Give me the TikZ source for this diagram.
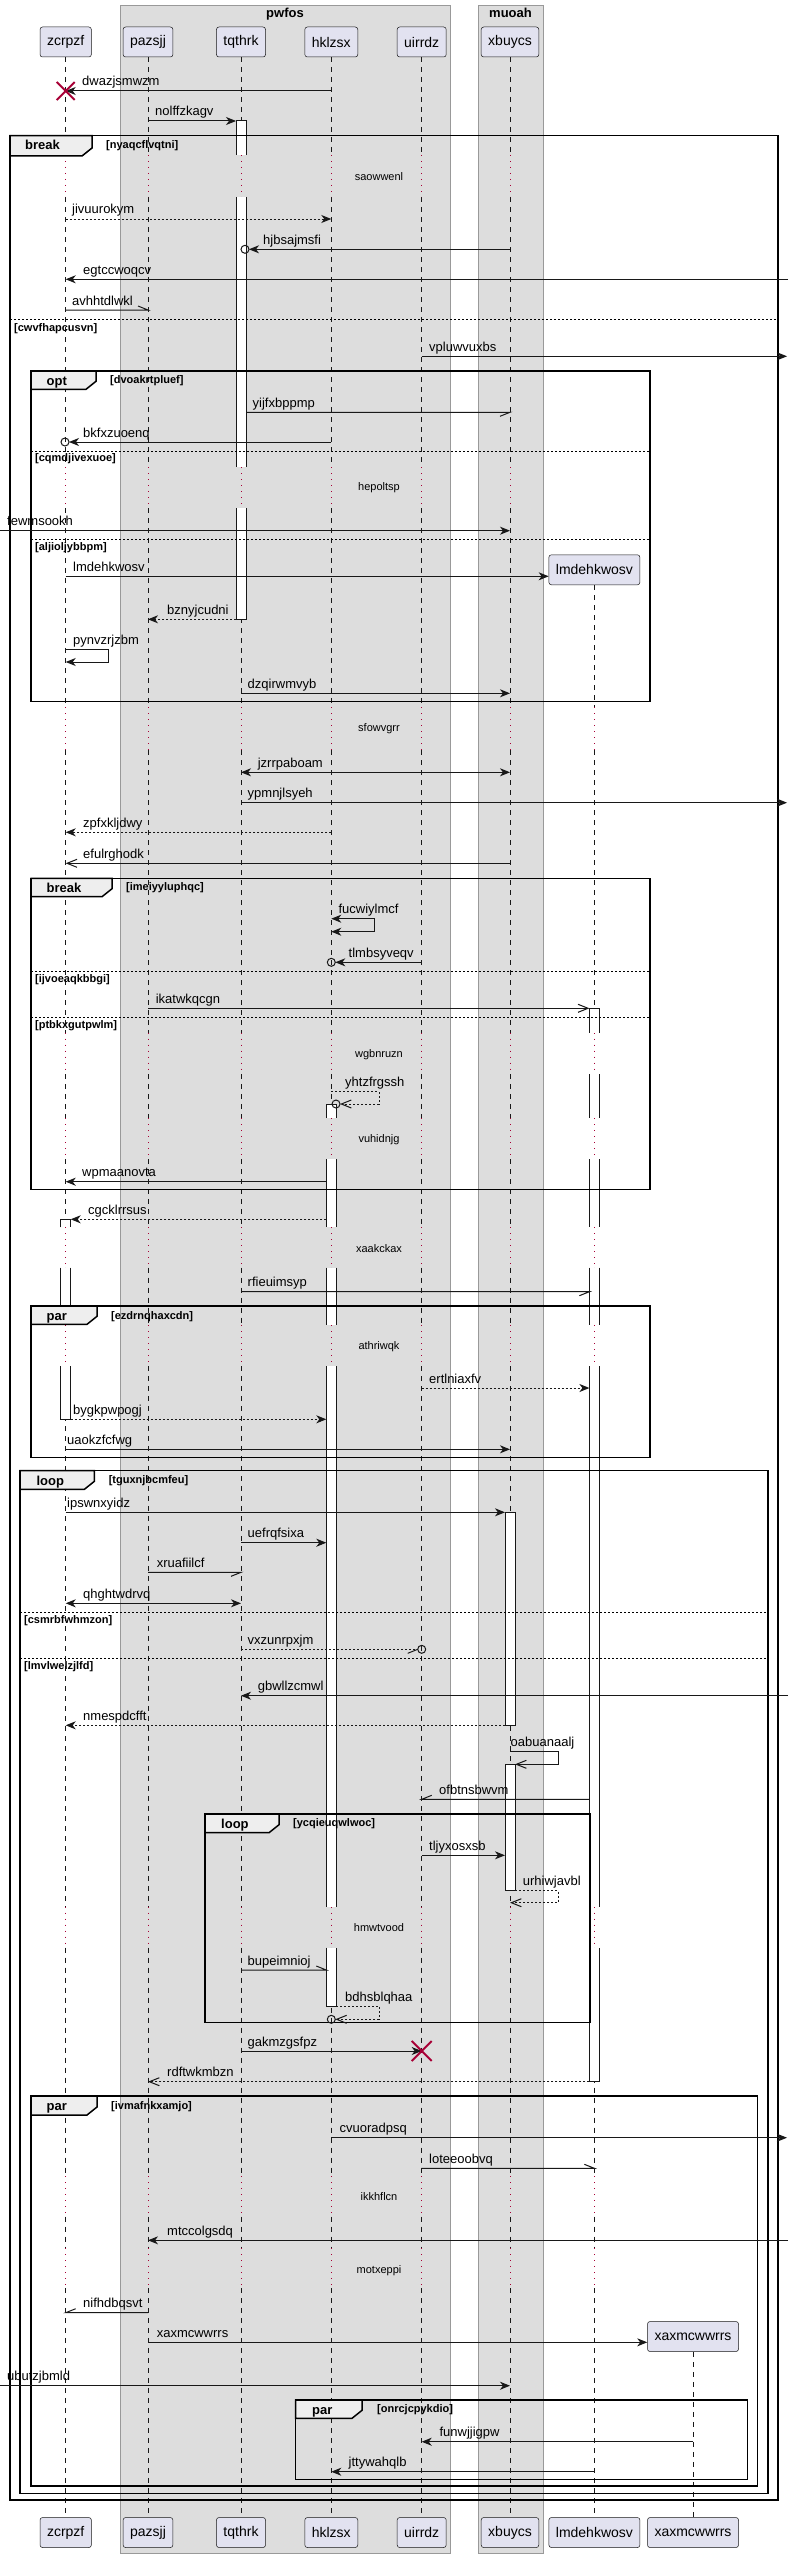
\documentclass[tikz,border=0pt]{standalone}
\usepackage{fontspec}
\setmainfont{Liberation Sans}
\usetikzlibrary{arrows.meta}
\definecolor{partfill}{HTML}{E2E2F0}
\definecolor{partline}{HTML}{181818}
\definecolor{boxfill}{HTML}{DDDDDD}
\definecolor{boxline}{HTML}{999999}
\definecolor{dlyred}{HTML}{A80036}
\definecolor{tabfill}{HTML}{EEEEEE}
\def\lxz{65.7}\def\lxp{148}\def\lxt{241}\def\lxh{331.3}\def\lxu{421.7}\def\lxb{510}\def\lxl{594.4}\def\lxx{693}
\newcommand\actA[4]{\fill[white] (#1,#3) rectangle (#2,#4); \draw[actl] (#1,#4) -- (#1,#3) -- (#2,#3) -- (#2,#4);}
\newcommand\actM[4]{\fill[white] (#1,#3) rectangle (#2,#4); \draw[actl] (#1,#3) -- (#1,#4) (#2,#3) -- (#2,#4);}
\newcommand\actZ[4]{\fill[white] (#1,#3) rectangle (#2,#4); \draw[actl] (#1,#3) -- (#1,#4) -- (#2,#4) -- (#2,#3);}
\newcommand\actF[4]{\filldraw[fill=white,actl] (#1,#3) rectangle (#2,#4);}
\tikzset{
 partbox/.style={draw=partline, fill=partfill, rounded corners=2.5pt, minimum height=30pt, inner xsep=7pt, inner ysep=0pt, font=\fontsize{14}{16}\selectfont, line width=0.5pt},
 life/.style={draw=partline, line width=0.5pt, dash pattern=on 5pt off 5pt},
 dly/.style={draw=dlyred, line width=1pt, dash pattern=on 1pt off 5pt},
 msg/.style={draw=partline, line width=1pt},
 ret/.style={msg, dash pattern=on 2pt off 2pt},
 fh/.style={-{Stealth[length=10pt,width=8pt,inset=3pt]}},
 bfh/.style={{Stealth[length=10pt,width=8pt,inset=3pt]}-{Stealth[length=10pt,width=8pt,inset=3pt]}},
 oh/.style={-{Straight Barb[length=10pt,width=8pt]}},
 lbl/.style={anchor=base west, inner sep=0pt, font=\fontsize{13}{15}\selectfont},
 dtext/.style={anchor=center, inner sep=0pt, font=\fontsize{11}{13}\selectfont},
 grpframe/.style={draw=black, line width=1.5pt},
 tabsh/.style={draw=black, fill=tabfill, line width=1.5pt},
 kw/.style={anchor=base west, inner sep=0pt, font=\bfseries\fontsize{13}{15}\selectfont},
 cond/.style={anchor=base west, inner sep=0pt, font=\bfseries\fontsize{11}{13}\selectfont},
 sepl/.style={draw=black, line width=1pt, dash pattern=on 2pt off 2pt},
 actl/.style={draw=partline, line width=1pt},
 destroy/.style={draw=dlyred, line width=2pt},
 grpbox/.style={draw=boxline, fill=boxfill, line width=1pt},
 boxtitle/.style={anchor=base, inner sep=0pt, font=\bfseries\fontsize{13}{15}\selectfont},
}
\begin{document}
\begin{tikzpicture}[x=1pt,y=-1pt]
\useasboundingbox (0,0) rectangle (788,2558);
\fill[white] (0,0) rectangle (788,2558);
% boxes
\draw[grpbox] (120,6) rectangle (450,2553);
\node[boxtitle] (bt1) at (285,18) {pwfos};
\draw[grpbox] (478,6) rectangle (543,2553);
\node[boxtitle] (bt2) at (510.5,18) {muoah};
% lifelines
\foreach \lx in {65.7,148,241,331.3,421.7,510} {
 \draw[life] (\lx,57) -- (\lx,155) (\lx,197) -- (\lx,467) (\lx,508) -- (\lx,707) (\lx,750) -- (\lx,1032.7) (\lx,1074) -- (\lx,1118) (\lx,1159.3) -- (\lx,1227.3) (\lx,1267.7) -- (\lx,1325) (\lx,1366) -- (\lx,1906.7) (\lx,1947.7) -- (\lx,2176) (\lx,2216.7) -- (\lx,2248) (\lx,2288) -- (\lx,2517);
 \draw[dly] (\lx,155) -- (\lx,197) (\lx,467) -- (\lx,508);
}
\foreach \lx in {65.7,148,241,331.3,421.7,510,594.4} {
 \draw[dly] (\lx,707) -- (\lx,750) (\lx,1032.7) -- (\lx,1074) (\lx,1118) -- (\lx,1159.3) (\lx,1227.3) -- (\lx,1267.7) (\lx,1325) -- (\lx,1366) (\lx,1906.7) -- (\lx,1947.7) (\lx,2176) -- (\lx,2216.7) (\lx,2248) -- (\lx,2288);
}
\draw[life] (\lxl,585.3) -- (\lxl,707) (\lxl,750) -- (\lxl,1032.7) (\lxl,1074) -- (\lxl,1118) (\lxl,1159.3) -- (\lxl,1227.3) (\lxl,1267.7) -- (\lxl,1325) (\lxl,1366) -- (\lxl,1906.7) (\lxl,1947.7) -- (\lxl,2176) (\lxl,2216.7) -- (\lxl,2248) (\lxl,2288) -- (\lxl,2517);
\draw[life] (\lxx,2352.3) -- (\lxx,2517);
% participants
\node[partbox] (zcT) at (\lxz,42) {zcrpzf};
\node[partbox] (paT) at (\lxp,42) {pazsjj};
\node[partbox] (tqT) at (\lxt,42) {tqthrk};
\node[partbox] (hkT) at (\lxh,42) {hklzsx};
\node[partbox] (uiT) at (\lxu,42) {uirrdz};
\node[partbox] (xbT) at (\lxb,42) {xbuycs};
\node[partbox] (lmC) at (\lxl,569.8) {lmdehkwosv};
\node[partbox] (xaC) at (\lxx,2336.5) {xaxmcwwrrs};
\node[partbox] (zcB) at (\lxz,2532.5) {zcrpzf};
\node[partbox] (paB) at (\lxp,2532.5) {pazsjj};
\node[partbox] (tqB) at (\lxt,2532.5) {tqthrk};
\node[partbox] (hkB) at (\lxh,2532.5) {hklzsx};
\node[partbox] (uiB) at (\lxu,2532.5) {uirrdz};
\node[partbox] (xbB) at (\lxb,2532.5) {xbuycs};
\node[partbox] (lmB) at (\lxl,2532.5) {lmdehkwosv};
\node[partbox] (xaB) at (\lxx,2532.5) {xaxmcwwrrs};
% activations
\actA{236}{246}{121}{155} \actM{236}{246}{197}{467} \actZ{236}{246}{508}{619.3}
\actA{589.4}{599.4}{1008.3}{1032.7} \actM{589.4}{599.4}{1074}{1118} \actM{589.4}{599.4}{1159.3}{1227.3}
\actM{589.4}{599.4}{1267.7}{1325} \actM{589.4}{599.4}{1366}{1906.7} \actZ{589.4}{599.4}{1947.7}{2081.7}
\actA{326.3}{336.3}{1104}{1118} \actM{326.3}{336.3}{1159.3}{1227.3} \actM{326.3}{336.3}{1267.7}{1325}
\actM{326.3}{336.3}{1366}{1906.7} \actZ{326.3}{336.3}{1947.7}{2006}
\actA{60.7}{70.7}{1219.3}{1227.3} \actM{60.7}{70.7}{1267.7}{1325} \actZ{60.7}{70.7}{1366}{1419.3}
\actF{505}{515}{1512.3}{1725.3} \actF{505}{515}{1764.3}{1890.7}
% frames
\draw[grpframe] (10,135.7) rectangle (778,2500);
\draw[tabsh] (10,135.7) -- (92,135.7) -- (92,148) -- (82,156) -- (10,156) -- cycle;
\node[kw] (f1k) at (25,150) {break};
\node[cond] (f1c) at (106,149) {[nyaqcflvqtni]};
\draw[sepl] (10,319.3) -- (778,319.3);
\node[cond] (f1s) at (14,331.7) {[cwvfhapcusvn]};
\draw[grpframe] (31,371) rectangle (650,701.7);
\draw[tabsh] (31,371) -- (96,371) -- (96,381.3) -- (86,389.3) -- (31,389.3) -- cycle;
\node[kw] (f2k) at (46.5,385) {opt};
\node[cond] (f2c) at (110,383) {[dvoakrtpluef]};
\draw[sepl] (31,451) -- (650,451);
\node[cond] (f2s) at (35,461.7) {[cqmdjivexuoe]};
\draw[sepl] (31,539.3) -- (650,539.3);
\node[cond] (f2t) at (35,550) {[aljioljybbpm]};
\draw[grpframe] (31,878.3) rectangle (650,1189.3);
\draw[tabsh] (31,878.3) -- (112,878.3) -- (112,888.7) -- (102,896.7) -- (31,896.7) -- cycle;
\node[kw] (f3k) at (46.5,892) {break};
\node[cond] (f3c) at (126,890.7) {[imeiyyluphqc]};
\draw[sepl] (31,971.7) -- (650,971.7);
\node[cond] (f3s) at (35,982.7) {[ijvoeaqkbbgi]};
\draw[sepl] (31,1017.3) -- (650,1017.3);
\node[cond] (f3t) at (35,1028.3) {[ptbkxgutpwlm]};
\draw[grpframe] (31,1306) rectangle (650,1457.3);
\draw[tabsh] (31,1306) -- (97,1306) -- (97,1316.3) -- (87,1324.3) -- (31,1324.3) -- cycle;
\node[kw] (f4k) at (46.5,1320.7) {par};
\node[cond] (f4c) at (111,1319.3) {[ezdrnqhaxcdn]};
\draw[grpframe] (20,1470.7) rectangle (768,2493.3);
\draw[tabsh] (20,1470.7) -- (94.4,1470.7) -- (94.4,1481.3) -- (84.4,1489.3) -- (20,1489.3) -- cycle;
\node[kw] (f5k) at (36.4,1485) {loop};
\node[cond] (f5c) at (108.6,1483.3) {[tguxnjbcmfeu]};
\draw[sepl] (20,1612.3) -- (768,1612.3);
\node[cond] (f5s) at (24,1623.3) {[csmrbfwhmzon]};
\draw[sepl] (20,1658.3) -- (768,1658.3);
\node[cond] (f5t) at (24,1669.3) {[lmvlwelzjlfd]};
\draw[grpframe] (205,1814) rectangle (590,2022.3);
\draw[tabsh] (205,1814) -- (279,1814) -- (279,1824.7) -- (269,1832.7) -- (205,1832.7) -- cycle;
\node[kw] (f6k) at (221,1828.3) {loop};
\node[cond] (f6c) at (293,1826.7) {[ycqieuqwlwoc]};
\draw[grpframe] (31,2096) rectangle (757.6,2486);
\draw[tabsh] (31,2096) -- (97,2096) -- (97,2107) -- (87,2115) -- (31,2115) -- cycle;
\node[kw] (f7k) at (46.5,2110.7) {par};
\node[cond] (f7c) at (111,2109.3) {[ivmafnkxamjo]};
\draw[grpframe] (295.5,2400) rectangle (747.5,2479.3);
\draw[tabsh] (295.5,2400) -- (362,2400) -- (362,2410.3) -- (352,2418.3) -- (295.5,2418.3) -- cycle;
\node[kw] (f8k) at (312,2414.3) {par};
\node[cond] (f8c) at (377,2412.7) {[onrcjcpykdio]};
% delays
\node[dtext] (d1) at (379,177) {saowwenl};
\node[dtext] (d2) at (379,488) {hepoltsp};
\node[dtext] (d3) at (379,729) {sfowvgrr};
\node[dtext] (d4) at (379,1055) {wgbnruzn};
\node[dtext] (d5) at (379,1140) {vuhidnjg};
\node[dtext] (d6) at (379,1249) {xaakckax};
\node[dtext] (d7) at (379,1347) {athriwqk};
\node[dtext] (d8) at (379,1928) {hmwtvood};
\node[dtext] (d9) at (379,2197) {ikkhflcn};
\node[dtext] (d10) at (379,2271) {motxeppi};
% messages
\coordinate (m1a) at (\lxh,91); \coordinate (m1b) at (\lxz,91);
\draw[msg,fh] (m1a) -- (m1b); \node[lbl] (l1) at (82,86) {dwazjsmwzm};
\draw[destroy] (m1b) ++(-9,-9) -- ++(18,18) (m1b) ++(9,-9) -- ++(-18,18);
\coordinate (m2a) at (\lxp,121); \coordinate (m2b) at (236,121);
\draw[msg,fh] (m2a) -- (m2b); \node[lbl] (l2) at (155,116) {nolffzkagv};
\coordinate (m3a) at (\lxz,219); \coordinate (m3b) at (\lxh,219);
\draw[ret,fh] (m3a) -- (m3b); \node[lbl] (l3) at (72,214) {jivuurokym};
\coordinate (m4a) at (\lxb,249.3); \coordinate (m4b) at (249,249.3); \coordinate (m4c) at (245,249.3);
\draw[msg,fh] (m4a) -- (m4b); \draw[msg] (m4c) circle[radius=4pt]; \node[lbl] (l4) at (263,244.3) {hjbsajmsfi};
\coordinate (m5a) at (788,279.3); \coordinate (m5b) at (\lxz,279.3);
\draw[msg,fh] (m5a) -- (m5b); \node[lbl] (l5) at (83,274.3) {egtccwoqcv};
\coordinate (m6a) at (\lxz,310); \coordinate (m6b) at (\lxp,310);
\draw[msg] (m6a) -- (m6b) -- ++(-10,-4); \node[lbl] (l6) at (72,305) {avhhtdlwkl};
\coordinate (m7a) at (\lxu,356.3); \coordinate (m7b) at (787,356.3);
\draw[msg,fh] (m7a) -- (m7b); \node[lbl] (l7) at (429,351.3) {vpluwvuxbs};
\coordinate (m8a) at (246,412.3); \coordinate (m8b) at (\lxb,412.3);
\draw[msg] (m8a) -- (m8b) -- ++(-10,4); \node[lbl] (l8) at (252.5,407.3) {yijfxbppmp};
\coordinate (m9a) at (\lxh,442); \coordinate (m9b) at (69,442); \coordinate (m9c) at (65,442);
\draw[msg,fh] (m9a) -- (m9b); \draw[msg] (m9c) circle[radius=4pt]; \node[lbl] (l9) at (83,437) {bkfxzuoenq};
\coordinate (m10a) at (0,530.7); \coordinate (m10b) at (\lxb,530.7);
\draw[msg,fh] (m10a) -- (m10b); \node[lbl] (l10) at (7,525.7) {fewmsookh};
\coordinate (m11a) at (\lxz,576.3);
\draw[msg,fh] (m11a) -- (lmC.west |- m11a); \node[lbl] (l11) at (73,571.3) {lmdehkwosv};
\coordinate (m12a) at (236,619.3); \coordinate (m12b) at (\lxp,619.3);
\draw[ret,fh] (m12a) -- (m12b); \node[lbl] (l12) at (167,614.3) {bznyjcudni};
\coordinate (m13a) at (\lxz,649.3); \coordinate (m13b) at (\lxz,662);
\draw[msg,fh] (m13a) -- ++(42.3,0) |- (m13b); \node[lbl] (l13) at (73,644.3) {pynvzrjzbm};
\coordinate (m14a) at (\lxt,693.3); \coordinate (m14b) at (\lxb,693.3);
\draw[msg,fh] (m14a) -- (m14b); \node[lbl] (l14) at (247.5,688.3) {dzqirwmvyb};
\coordinate (m15a) at (\lxt,772.3); \coordinate (m15b) at (\lxb,772.3);
\draw[msg,bfh] (m15a) -- (m15b); \node[lbl] (l15) at (257.6,767.3) {jzrrpaboam};
\coordinate (m16a) at (\lxt,802.7); \coordinate (m16b) at (787,802.7);
\draw[msg,fh] (m16a) -- (m16b); \node[lbl] (l16) at (247.5,797.7) {ypmnjlsyeh};
\coordinate (m17a) at (\lxh,832.3); \coordinate (m17b) at (\lxz,832.3);
\draw[ret,fh] (m17a) -- (m17b); \node[lbl] (l17) at (83,827.3) {zpfxkljdwy};
\coordinate (m18a) at (\lxb,863.3); \coordinate (m18b) at (\lxz,863.3);
\draw[msg,oh] (m18a) -- (m18b); \node[lbl] (l18) at (83,858.3) {efulrghodk};
\coordinate (m19a) at (\lxh,918.7); \coordinate (m19b) at (\lxh,931.7);
\draw[msg,bfh] (m19a) -- ++(42.7,0) |- (m19b); \node[lbl] (l19) at (338.4,913.7) {fucwiylmcf};
\coordinate (m20a) at (\lxu,962.3); \coordinate (m20b) at (335.3,962.3); \coordinate (m20c) at (\lxh,962.3);
\draw[msg,fh] (m20a) -- (m20b); \draw[msg] (m20c) circle[radius=4pt]; \node[lbl] (l20) at (348.5,957.3) {tlmbsyveqv};
\coordinate (m21a) at (\lxp,1008.3); \coordinate (m21b) at (589.4,1008.3);
\draw[msg,oh] (m21a) -- (m21b); \node[lbl] (l21) at (155.6,1003.3) {ikatwkqcgn};
\coordinate (m22a) at (\lxh,1091.7); \coordinate (m22b) at (340,1104); \coordinate (m22c) at (336,1104);
\draw[ret,oh] (m22a) -- ++(47.7,0) |- (m22b); \draw[msg] (m22c) circle[radius=4pt]; \node[lbl] (l22) at (345,1086.7) {yhtzfrgssh};
\coordinate (m23a) at (326.3,1181.7); \coordinate (m23b) at (\lxz,1181.7);
\draw[msg,fh] (m23a) -- (m23b); \node[lbl] (l23) at (82,1176.7) {wpmaanovta};
\coordinate (m24a) at (326.3,1219.3); \coordinate (m24b) at (70.7,1219.3);
\draw[ret,fh] (m24a) -- (m24b); \node[lbl] (l24) at (88,1214.3) {cgcklrrsus};
\coordinate (m25a) at (\lxt,1291.7); \coordinate (m25b) at (589.4,1291.7);
\draw[msg] (m25a) -- (m25b) -- ++(-10,4); \node[lbl] (l25) at (247.5,1286.7) {rfieuimsyp};
\coordinate (m26a) at (\lxu,1388); \coordinate (m26b) at (589.4,1388);
\draw[ret,fh] (m26a) -- (m26b); \node[lbl] (l26) at (429,1383) {ertlniaxfv};
\coordinate (m27a) at (70.7,1419.3); \coordinate (m27b) at (326.3,1419.3);
\draw[ret,fh] (m27a) -- (m27b); \node[lbl] (l27) at (73,1414.3) {bygkpwpogj};
\coordinate (m28a) at (\lxz,1449.3); \coordinate (m28b) at (\lxb,1449.3);
\draw[msg,fh] (m28a) -- (m28b); \node[lbl] (l28) at (67,1444.3) {uaokzfcfwg};
\coordinate (m29a) at (\lxz,1512.3); \coordinate (m29b) at (505,1512.3);
\draw[msg,fh] (m29a) -- (m29b); \node[lbl] (l29) at (67,1507.3) {ipswnxyidz};
\coordinate (m30a) at (\lxt,1542.7); \coordinate (m30b) at (326.3,1542.7);
\draw[msg,fh] (m30a) -- (m30b); \node[lbl] (l30) at (247.5,1537.7) {uefrqfsixa};
\coordinate (m31a) at (\lxp,1572.3); \coordinate (m31b) at (\lxt,1572.3);
\draw[msg] (m31a) -- (m31b) -- ++(-10,4); \node[lbl] (l31) at (156.6,1567.3) {xruafiilcf};
\coordinate (m32a) at (\lxz,1603.3); \coordinate (m32b) at (\lxt,1603.3);
\draw[msg,bfh] (m32a) -- (m32b); \node[lbl] (l32) at (83,1598.3) {qhghtwdrvq};
\coordinate (m33a) at (\lxt,1649.3); \coordinate (m33b) at (417.7,1649.3); \coordinate (m33c) at (\lxu,1649.3);
\draw[ret] (m33a) -- (m33b); \draw[msg] (m33b) -- ++(-10,4); \draw[msg] (m33c) circle[radius=4pt]; \node[lbl] (l33) at (247.5,1644.3) {vxzunrpxjm};
\coordinate (m34a) at (788,1695.7); \coordinate (m34b) at (\lxt,1695.7);
\draw[msg,fh] (m34a) -- (m34b); \node[lbl] (l34) at (257.6,1690.7) {gbwllzcmwl};
\coordinate (m35a) at (505,1725.3); \coordinate (m35b) at (\lxz,1725.3);
\draw[ret,fh] (m35a) -- (m35b); \node[lbl] (l35) at (83,1720.3) {nmespdcfft};
\coordinate (m36a) at (\lxb,1751.7); \coordinate (m36b) at (515,1764.3);
\draw[msg,oh] (m36a) -- ++(48,0) |- (m36b); \node[lbl] (l36) at (510.5,1746.7) {oabuanaalj};
\coordinate (m37a) at (589.4,1799.3); \coordinate (m37b) at (\lxu,1799.3);
\draw[msg] (m37a) -- (m37b) -- ++(10,-4); \node[lbl] (l37) at (439,1794.3) {ofbtnsbwvm};
\coordinate (m38a) at (\lxu,1855.3); \coordinate (m38b) at (505,1855.3);
\draw[msg,fh] (m38a) -- (m38b); \node[lbl] (l38) at (429,1850.3) {tljyxosxsb};
\coordinate (m39a) at (515,1890.7); \coordinate (m39b) at (\lxb,1902.7);
\draw[ret,oh] (m39a) -- ++(43,0) |- (m39b); \node[lbl] (l39) at (522.7,1885.7) {urhiwjavbl};
\coordinate (m40a) at (\lxt,1970); \coordinate (m40b) at (326.3,1970);
\draw[msg] (m40a) -- (m40b) -- ++(-10,-4); \node[lbl] (l40) at (247.5,1965) {bupeimnioj};
\coordinate (m41a) at (336.3,2006); \coordinate (m41b) at (335.3,2019.3); \coordinate (m41c) at (\lxh,2019.3);
\draw[ret,oh] (m41a) -- ++(42.7,0) |- (m41b); \draw[msg] (m41c) circle[radius=4pt]; \node[lbl] (l41) at (345,2001) {bdhsblqhaa};
\coordinate (m42a) at (\lxt,2051); \coordinate (m42b) at (\lxu,2051);
\draw[msg,fh] (m42a) -- (m42b); \node[lbl] (l42) at (247.5,2046) {gakmzgsfpz};
\draw[destroy] (m42b) ++(-10,-10) -- ++(20,20) (m42b) ++(10,-10) -- ++(-20,20);
\coordinate (m43a) at (589.4,2081.7); \coordinate (m43b) at (\lxp,2081.7);
\draw[ret,oh] (m43a) -- (m43b); \node[lbl] (l43) at (167,2076.7) {rdftwkmbzn};
\coordinate (m44a) at (\lxh,2137.7); \coordinate (m44b) at (787,2137.7);
\draw[msg,fh] (m44a) -- (m44b); \node[lbl] (l44) at (339.4,2132.7) {cvuoradpsq};
\coordinate (m45a) at (\lxu,2168.3); \coordinate (m45b) at (\lxl,2168.3);
\draw[msg] (m45a) -- (m45b) -- ++(-10,-4); \node[lbl] (l45) at (429,2163.3) {loteeoobvq};
\coordinate (m46a) at (788,2240.3); \coordinate (m46b) at (\lxp,2240.3);
\draw[msg,fh] (m46a) -- (m46b); \node[lbl] (l46) at (167,2235.3) {mtccolgsdq};
\coordinate (m47a) at (\lxp,2312.7); \coordinate (m47b) at (\lxz,2312.7);
\draw[msg] (m47a) -- (m47b) -- ++(10,-4); \node[lbl] (l47) at (83,2307.7) {nifhdbqsvt};
\coordinate (m48a) at (\lxp,2342.3);
\draw[msg,fh] (m48a) -- (xaC.west |- m48a); \node[lbl] (l48) at (156.6,2337.3) {xaxmcwwrrs};
\coordinate (m49a) at (0,2385.7); \coordinate (m49b) at (\lxb,2385.7);
\draw[msg,fh] (m49a) -- (m49b); \node[lbl] (l49) at (7,2380.7) {ubutzjbmld};
\coordinate (m50a) at (\lxx,2441.7); \coordinate (m50b) at (\lxu,2441.7);
\draw[msg,fh] (m50a) -- (m50b); \node[lbl] (l50) at (439.4,2436.7) {funwjjigpw};
\coordinate (m51a) at (\lxl,2471.7); \coordinate (m51b) at (\lxh,2471.7);
\draw[msg,fh] (m51a) -- (m51b); \node[lbl] (l51) at (348.5,2466.7) {jttywahqlb};
\end{tikzpicture}
\end{document}
